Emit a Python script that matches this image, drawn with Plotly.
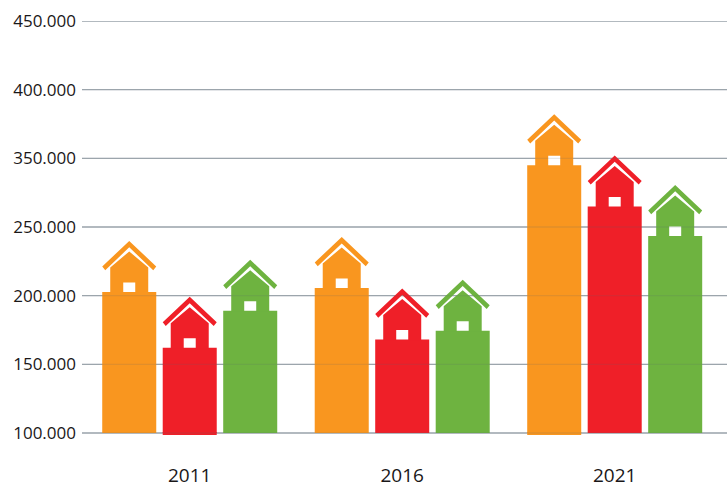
import plotly.graph_objects as go

years = ["2011", "2016", "2021"]
series_colors = ["#F9961F", "#EF1F28", "#6EB340"]
orange = [202700, 205600, 295000]
red = [162000, 168000, 265000]
green = [189000, 174500, 243500]
overhang = [[0, 0, 1], [1, 0, 0], [0, 0, 0]]
tick_vals = [100000, 150000, 200000, 250000, 300000, 350000, 400000]
tick_text = ["100.000", "150.000", "200.000", "250.000", "350.000", "400.000", "450.000"]
series = [orange, red, green]

W, H = 727, 488
L, R, T, B = 82, 0, 21, 52
XMIN, XMAX = -0.507, 2.5285
YMIN, YMAX = 100000, 400000
px_x = (XMAX - XMIN) / (W - L - R)
px_y = (YMAX - YMIN) / (H - T - B - 3)
YLOW = YMIN - 3 * px_y
BARGAP = 0.146
GROUPGAP = 0.107
slot = (1 - BARGAP) / 3


def poly(cx, top, pts):
    xs = [cx + p[0] * px_x for p in pts]
    ys = [top + p[1] * px_y for p in pts]
    return xs + [xs[0], None], ys + [ys[0], None]


ROOF = [(0, 51), (27, 25.5), (24, 21.8), (0, 44.6), (-24, 21.8), (-27, 25.5)]
BODY = [(-19, -1), (-19, 24.5), (0, 40.5), (19, 24.5), (19, -1)]
WINDOW = [(-6, 0), (-6, 9.5), (6, 9.5), (6, 0)]
FOOT = [(-27, 1), (-27, -2), (27, -2), (27, 1)]

fig = go.Figure()
for s, vals in enumerate(series):
    color = series_colors[s]
    fig.add_trace(go.Bar(
        x=list(range(len(years))),
        y=[v - YMIN for v in vals],
        base=YMIN,
        marker=dict(color=color, line=dict(width=0)),
        showlegend=False,
    ))
for s, vals in enumerate(series):
    color = series_colors[s]
    for shape, fill in ((ROOF, color), (BODY, color), (WINDOW, "#FFFFFF")):
        xs, ys = [], []
        for i, v in enumerate(vals):
            cx = i + (s - 1) * slot
            a, b = poly(cx, v, shape)
            xs += a
            ys += b
        fig.add_trace(go.Scatter(
            x=xs, y=ys, mode="lines", fill="toself", fillcolor=fill,
            line=dict(width=0), hoverinfo="skip", showlegend=False, cliponaxis=False,
        ))
    xs, ys = [], []
    for i, flag in enumerate(overhang[s]):
        if flag:
            a, b = poly(i + (s - 1) * slot, YMIN, FOOT)
            xs += a
            ys += b
    if xs:
        fig.add_trace(go.Scatter(
            x=xs, y=ys, mode="lines", fill="toself", fillcolor=color,
            line=dict(width=0), hoverinfo="skip", showlegend=False, cliponaxis=False,
        ))

for v in tick_vals:
    fig.add_shape(type="line", xref="paper", x0=0, x1=1, yref="y", y0=v, y1=v,
                  layer="below", line=dict(color="#A9B1B8", width=1.3))
    fig.add_shape(type="line", xref="paper", x0=0, x1=1, yref="y", y0=v, y1=v,
                  layer="above", line=dict(color="rgba(90,100,110,0.15)", width=1.3))

fig.update_layout(
    width=W, height=H, autosize=False,
    margin=dict(l=L, r=R, t=T, b=B),
    barmode="group", bargap=BARGAP, bargroupgap=GROUPGAP,
    paper_bgcolor="white", plot_bgcolor="rgba(0,0,0,0)",
    font=dict(family="Open Sans", color="#1A1718", size=17),
    showlegend=False,
    xaxis=dict(range=[XMIN, XMAX], tickmode="array", tickvals=list(range(len(years))),
               ticktext=years, showgrid=False, zeroline=False, showline=False,
               ticks="", ticklabelstandoff=26, tickfont=dict(size=19)),
    yaxis=dict(range=[YLOW, YMAX], tickmode="array", tickvals=tick_vals, ticktext=tick_text,
               showgrid=False, zeroline=False, showline=False,
               ticks="", ticklabelstandoff=5, tickfont=dict(size=17)),
)
fig.write_html("out.html", config={"displayModeBar": False},
               post_script="document.body.style.margin='0';")
